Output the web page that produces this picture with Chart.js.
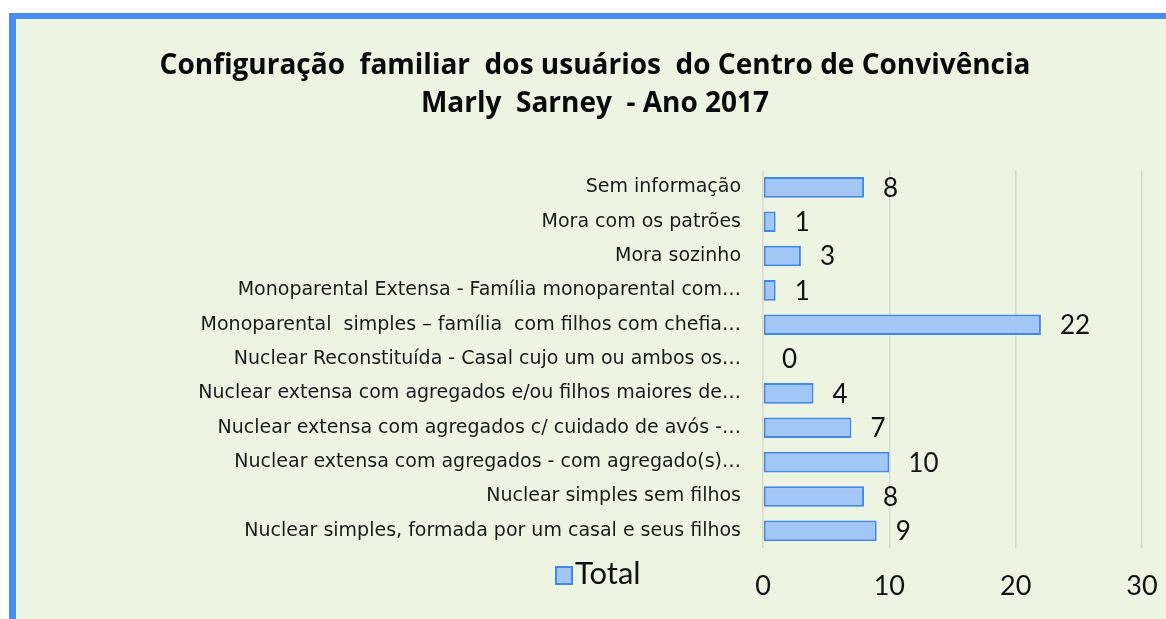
<!DOCTYPE html>
<html>
<head>
<meta charset="utf-8">
<script src="https://cdn.jsdelivr.net/npm/chart.js@4.4.0/dist/chart.umd.min.js"></script>
<style>
  html, body { margin: 0; padding: 0; background: #ffffff; }
  #frame {
    position: absolute; left: 9px; top: 13px; width: 1157px; height: 606px;
    background: #eef4e2; border-left: 7px solid #4a8cf0; border-top: 6px solid #4a8cf0;
  }
  #box { position: absolute; left: 0; top: 0; width: 1166px; height: 619px; }
</style>
</head>
<body>
<div id="frame"></div>
<div id="box"><canvas id="chart"></canvas></div>
<script>
// categorias (de cima para baixo, como no gráfico)
const categorias = [
  'Sem informação',
  'Mora com os patrões',
  'Mora sozinho',
  'Monoparental Extensa - Família monoparental com…',
  'Monoparental  simples – família  com filhos com chefia…',
  'Nuclear Reconstituída - Casal cujo um ou ambos os…',
  'Nuclear extensa com agregados e/ou filhos maiores de…',
  'Nuclear extensa com agregados c/ cuidado de avós -…',
  'Nuclear extensa com agregados - com agregado(s)…',
  'Nuclear simples sem filhos',
  'Nuclear simples, formada por um casal e seus filhos'
];
const totais = [8, 1, 3, 1, 22, 0, 4, 7, 10, 8, 9];
const ticksX = [0, 10, 20, 30];
const titulo = ['Configuração  familiar  dos usuários  do Centro de Convivência', 'Marly  Sarney  - Ano 2017'];

const corBarra = '#a2c6f6';
const corBorda = '#4288ea';
const fonteNum = "Lato, sans-serif";

// rótulos de valor à direita das barras
const rotulosValor = {
  id: 'rotulosValor',
  afterDatasetsDraw(chart) {
    const ctx = chart.ctx;
    const meta = chart.getDatasetMeta(0);
    ctx.save();
    ctx.font = '26px ' + fonteNum;
    ctx.fillStyle = '#111';
    ctx.textAlign = 'left';
    ctx.textBaseline = 'middle';
    meta.data.forEach((bar, i) => {
      ctx.fillText(String(chart.data.datasets[0].data[i]), bar.x + 19, bar.y + 1);
    });
    ctx.restore();
  }
};

// legenda "Total" no canto inferior
const legendaTotal = {
  id: 'legendaTotal',
  afterDraw(chart) {
    const ctx = chart.ctx;
    const a = chart.chartArea;
    const x = a.left - 207, y = a.bottom + 19;
    ctx.save();
    ctx.fillStyle = corBarra;
    ctx.strokeStyle = corBorda;
    ctx.lineWidth = 2;
    ctx.fillRect(x, y, 16, 17);
    ctx.strokeRect(x, y, 16, 17);
    ctx.font = '31px Lato, sans-serif';
    ctx.fillStyle = '#111';
    ctx.textBaseline = 'middle';
    ctx.fillText(chart.data.datasets[0].label, x + 19, y + 7);
    ctx.restore();
  }
};

new Chart(document.getElementById('chart'), {
  type: 'bar',
  data: {
    labels: categorias,
    datasets: [{
      label: 'Total',
      data: totais,
      backgroundColor: corBarra,
      borderColor: corBorda,
      borderWidth: 2,
      borderSkipped: false,
      barPercentage: 0.6,
      categoryPercentage: 1
    }]
  },
  options: {
    indexAxis: 'y',
    responsive: true,
    maintainAspectRatio: false,
    animation: false,
    layout: { padding: { left: 48, right: 24, top: 0, bottom: 21 } },
    plugins: {
      legend: { display: false },
      tooltip: { enabled: false },
      title: {
        display: true,
        text: titulo,
        color: '#0a0a0a',
        font: { family: "'Open Sans', sans-serif", size: 28, weight: 'bold', lineHeight: 1.36 },
        padding: { top: 47, bottom: 47 }
      }
    },
    scales: {
      x: {
        min: 0,
        max: 30,
        afterBuildTicks(scale) { scale.ticks = ticksX.map(v => ({ value: v })); },
        afterFit(scale) { scale.height = 50; scale.paddingLeft = 0; scale.paddingRight = 0; },
        grid: { color: '#d5dacd', lineWidth: 1.5, drawTicks: false },
        border: { display: false },
        ticks: { color: '#111', padding: 22, font: { family: fonteNum, size: 27 } }
      },
      y: {
        afterFit(scale) { scale.width = 763 - 48; },
        grid: { display: false, drawTicks: false },
        border: { display: false },
        ticks: { color: '#1a1a1a', padding: 22, autoSkip: false, font: { family: "'DejaVu Sans', sans-serif", size: 19 } }
      }
    }
  },
  plugins: [rotulosValor, legendaTotal]
});
</script>
</body>
</html>
